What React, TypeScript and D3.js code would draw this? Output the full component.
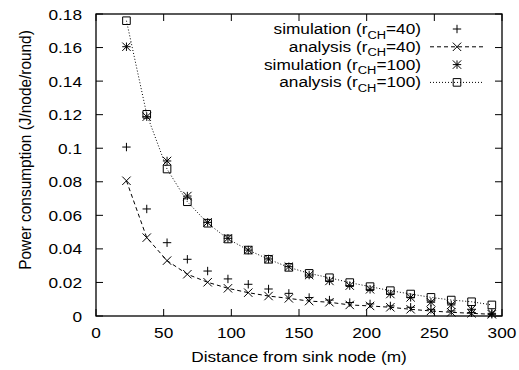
import React from 'react';
import * as d3 from 'd3';

const distances = [22.5, 37.5, 52.5, 67.5, 82.5, 97.5, 112.5, 127.5, 142.5, 157.5, 172.5, 187.5, 202.5, 217.5, 232.5, 247.5, 262.5, 277.5, 292.5];
const simR40 = [0.1007, 0.0638, 0.0437, 0.0338, 0.0268, 0.0221, 0.0189, 0.0161, 0.0135, 0.011, 0.0095, 0.008, 0.0072, 0.006, 0.0052, 0.004, 0.003, 0.002, 0.001];
const anaR40 = [0.0806, 0.0467, 0.033, 0.0249, 0.0201, 0.0165, 0.0139, 0.0119, 0.0105, 0.0089, 0.0082, 0.0066, 0.006, 0.0052, 0.004, 0.003, 0.0022, 0.0016, 0.001];
const simR100 = [0.1605, 0.1188, 0.0924, 0.0715, 0.0558, 0.0463, 0.0393, 0.034, 0.0294, 0.0244, 0.0209, 0.0181, 0.0159, 0.0131, 0.0111, 0.0082, 0.0066, 0.004, 0.0016];
const anaR100 = [0.176, 0.1202, 0.0876, 0.0681, 0.0553, 0.0459, 0.0393, 0.0338, 0.029, 0.0254, 0.0228, 0.0199, 0.0175, 0.0151, 0.0131, 0.0111, 0.0095, 0.0085, 0.0066];
const xTicks = [0, 50, 100, 150, 200, 250, 300];
const yTicks = [0, 0.02, 0.04, 0.06, 0.08, 0.1, 0.12, 0.14, 0.16, 0.18];
const legendLabels = [
  { pre: 'simulation (r', sub: 'CH', post: '=40)' },
  { pre: 'analysis (r', sub: 'CH', post: '=40)' },
  { pre: 'simulation (r', sub: 'CH', post: '=100)' },
  { pre: 'analysis (r', sub: 'CH', post: '=100)' },
];

const W = 519, H = 370;
const L = 96, R = 502, T = 14, B = 316;
const FONT = '"Liberation Sans", Arial, Helvetica, sans-serif';
const FS = 15.4;
const SX = 1.12;

type MarkerKind = 'plus' | 'cross' | 'star' | 'square';

function markerPath(kind: MarkerKind, x: number, y: number): string {
  const p = 4.2;
  const plus = `M${x - p},${y}H${x + p}M${x},${y - p}V${y + p}`;
  const cross = `M${x - p},${y - p}L${x + p},${y + p}M${x - p},${y + p}L${x + p},${y - p}`;
  const s = 3.8;
  const sq = `M${x - s},${y - s}H${x + s}V${y + s}H${x - s}Z`;
  if (kind === 'plus') return plus;
  if (kind === 'cross') return cross;
  if (kind === 'star') return plus + cross;
  return sq;
}

function HText(props: { x: number; y: number; anchor: string; children: React.ReactNode; size?: number }) {
  return (
    <text
      transform={`translate(${props.x},${props.y}) scale(${SX},1)`}
      fontSize={props.size ?? FS}
      textAnchor={props.anchor}
      fill="#000"
    >
      {props.children}
    </text>
  );
}

export default function App() {
  const x = d3.scaleLinear().domain([0, 300]).range([L, R]);
  const y = d3.scaleLinear().domain([0, 0.18]).range([B, T]);
  const series = [
    { vals: simR40, kind: 'plus' as MarkerKind, dash: null as string | null },
    { vals: anaR40, kind: 'cross' as MarkerKind, dash: '4,3' },
    { vals: simR100, kind: 'star' as MarkerKind, dash: null },
    { vals: anaR100, kind: 'square' as MarkerKind, dash: '1,2' },
  ];
  const line = d3.line<number>().x((_, i) => x(distances[i])).y((d) => y(d));
  const tk = 7;
  const fmt = (v: number) => String(+v.toFixed(2));
  const legX = 421, legL0 = 430, legL1 = 484, legM = 457;
  const legY0 = 29, legDy = 17.8;

  return (
    <svg width={W} height={H} style={{ position: 'absolute', left: 0, top: 0, background: '#fff' }} fontFamily={FONT}>
      <rect x={0} y={0} width={W} height={H} fill="#fff" />
      {xTicks.map((t) => (
        <g key={'xt' + t}>
          <line x1={x(t)} x2={x(t)} y1={B} y2={B - tk} stroke="#000" strokeWidth={1} />
          <line x1={x(t)} x2={x(t)} y1={T} y2={T + tk} stroke="#000" strokeWidth={1} />
          <HText x={x(t)} y={338} anchor="middle">{t}</HText>
        </g>
      ))}
      {yTicks.map((t) => (
        <g key={'yt' + t}>
          <line x1={L} x2={L + tk} y1={y(t)} y2={y(t)} stroke="#000" strokeWidth={1} />
          <line x1={R} x2={R - tk} y1={y(t)} y2={y(t)} stroke="#000" strokeWidth={1} />
          <HText x={82} y={y(t) + 5.5} anchor="end">{fmt(t)}</HText>
        </g>
      ))}
      {series.map((s, si) => (
        <g key={'s' + si}>
          {s.dash && (
            <path d={line(s.vals) || ''} fill="none" stroke="#000" strokeWidth={1} strokeDasharray={s.dash} />
          )}
          {s.vals.map((v, i) => (
            <path key={i} d={markerPath(s.kind, x(distances[i]), y(v))} fill="none" stroke="#000" strokeWidth={1} />
          ))}
        </g>
      ))}
      {legendLabels.map((lab, i) => {
        const ly = legY0 + i * legDy;
        const s = series[i];
        return (
          <g key={'lg' + i}>
            <HText x={legX} y={ly + 5} anchor="end">
              {lab.pre}
              <tspan fontSize={11.5} dy={4.5}>{lab.sub}</tspan>
              <tspan dy={-4.5}>{lab.post}</tspan>
            </HText>
            {s.dash && (
              <line x1={legL0} x2={legL1} y1={ly} y2={ly} stroke="#000" strokeWidth={1} strokeDasharray={s.dash} />
            )}
            <path d={markerPath(s.kind, legM, ly)} fill="none" stroke="#000" strokeWidth={1} />
          </g>
        );
      })}
      <rect x={L} y={T} width={R - L} height={B - T} fill="none" stroke="#000" strokeWidth={1.3} />
      <HText x={(L + R) / 2} y={362} anchor="middle">Distance from sink node (m)</HText>
      <text transform={`translate(31,150) scale(${SX},1) rotate(-90)`} fontSize={FS} textAnchor="middle" fill="#000">Power consumption (J/node/round)</text>
    </svg>
  );
}
